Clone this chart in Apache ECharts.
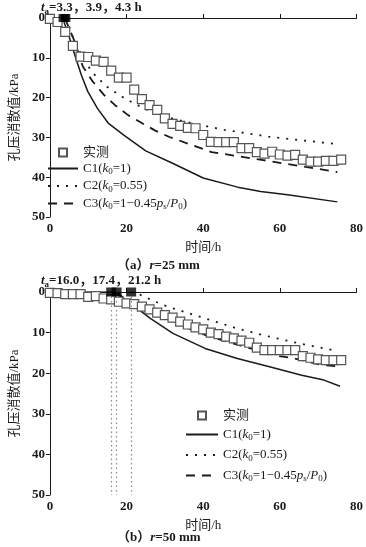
<!DOCTYPE html>
<html>
<head>
<meta charset="utf-8">
<script src="https://cdn.jsdelivr.net/npm/echarts@6/dist/echarts.min.js"></script>
<style>html,body{margin:0;padding:0;background:#fff;}#c{width:366px;height:547px;}</style>
</head>
<body>
<div id="c"></div>
<script>
// ---------- data: panel (a) r = 25 mm ----------
var obsA_x = [0,2,4,6,8,10,12,14,16,18,20,22,24,26,28,30,32,34,36,38,40,42,44,46,48,50,52,54,56,58,60,62,64,66,68,70,72,74,76];
var obsA_y = [0.2,1,3.5,7,9.7,9.8,10.7,11,13.2,15,15,18,20.4,21.9,23.1,25.2,26.6,27.1,27.6,27.7,29.4,31.1,31.2,31.2,31.2,32.7,32.7,33.7,34.1,33.6,34.3,34.6,34.4,35.6,36.1,36.1,35.9,35.9,35.6];
var c1A_x = [0,3.3,4.9,6.5,8.2,9.9,12.4,15.3,19.1,25,32,40,49,55,62,75];
var c1A_y = [0,0,4.3,9.3,14.3,18.5,22.7,26.5,29.3,33.4,36.5,40.2,42.5,43.6,44.4,46.2];
var c2A_x = [4.3,5.3,6.1,9.1,11.6,14.9,19.5,23.7,28.3,35.9,45.5,57,75];
var c2A_y = [0,3.0,5.1,11,14.2,17.3,20.2,22.3,24.4,26.2,28.1,29.8,31.7];
var c3A_x = [3.9,5,6.5,8.6,11.2,14.1,17,20.4,24.2,27.5,31.2,42.2,55.6,75];
var c3A_y = [0,2.5,6,12.2,16,19.3,21.9,24.4,26.5,28.3,29.9,33.7,35.7,38.7];
var taA = [3.3,3.9,4.3];
// ---------- data: panel (b) r = 50 mm ----------
var obsB_x = [0,2,4,6,8,10,12,14,16,18,20,22,24,26,28,30,32,34,36,38,40,42,44,46,48,50,52,54,56,58,60,62,64,66,68,70,72,74,76];
var obsB_y = [0.2,0.3,0.5,0.5,0.5,1.2,1.0,1.6,1.8,2.4,2.8,3.0,3.6,4.3,5.1,5.7,6.3,7.3,8.0,8.7,9.2,10.0,10.4,11.0,11.4,12.0,12.5,13.7,14.3,14.3,14.3,14.3,14.3,15.8,16.2,16.6,16.8,16.8,16.8];
var c1B_x = [0,16,16.5,18.7,22,26.2,32.1,40.5,48.9,57.3,65.7,71.5,75.7];
var c1B_y = [0,0,0.2,1.2,3.5,6.5,10.2,13.9,16.4,18.4,20.5,21.7,23.2];
var c2B_x = [21.2,24.6,26.2,30.4,40.5,48.9,57.3,65.7,74.9];
var c2B_y = [0,1.0,1.9,3.5,6.5,9.0,11.0,12.8,14.5];
var c3B_x = [17.4,20,25,30,35.5,40.5,47.2,53.1,59.8,63,70.7,75.7];
var c3B_y = [0,2.1,4.0,6.1,8.7,10.6,12.5,14.1,15.8,16.2,17.9,18.4];
var taB = [16.0,17.4,21.2];
// ---------- axis ticks ----------
var xTicks = [0,20,40,60,80];
var yTicks = [0,10,20,30,40,50];
var legendNames = ['实测','C1','C2','C3'];

function pairs(xs, ys){ return xs.map(function(x,i){ return [x, ys[i]]; }); }
function taPts(ts){ return ts.map(function(t){ return [t, 0]; }); }

var SERIF = "'Liberation Serif','Noto Sans CJK SC',serif";
var INK = '#1a1a1a';
var rich = {
  n: {fontFamily: SERIF, fontSize: 13, color: INK, lineHeight: 16},
  i: {fontFamily: SERIF, fontSize: 13, color: INK, fontStyle: 'italic', lineHeight: 16},
  s: {fontFamily: SERIF, fontSize: 9, color: INK, verticalAlign: 'bottom', lineHeight: 8}
};
function legendFmt(name){
  if (name === '实测') return '{n|实测}';
  if (name === 'C1') return '{n|C1(}{i|k}{s|0}{n|=1)}';
  if (name === 'C2') return '{n|C2(}{i|k}{s|0}{n|=0.55)}';
  return '{n|C3(}{i|k}{s|0}{n|=1−0.45}{i|p}{s|s}{n|/}{i|P}{s|0}{n|)}';
}
function legendData(){
  return legendNames.map(function(n){
    return n === '实测' ? {name: n} : {name: n, itemStyle: {opacity: 0}};
  });
}

function xAx(gi){
  return {
    type: 'value', gridIndex: gi, min: 0, max: 80, interval: 20,
    name: '时间/h', nameLocation: 'middle', nameGap: 24,
    nameTextStyle: {fontFamily: SERIF, fontSize: 13, color: INK},
    axisLine: {lineStyle: {color: INK, width: 1}},
    axisTick: {inside: true, length: 4, lineStyle: {color: INK}},
    axisLabel: {fontFamily: SERIF, fontSize: 13, color: INK, fontWeight: 'bold', margin: 5,
      formatter: function(v){ return xTicks.indexOf(v) >= 0 ? String(v) : ''; }},
    splitLine: {show: false}
  };
}
function yAx(gi){
  return {
    type: 'value', gridIndex: gi, min: 0, max: 50, interval: 10, inverse: true,
    name: '孔压消散值/kPa', nameLocation: 'middle', nameGap: 25, nameRotate: 90,
    nameTextStyle: {fontFamily: SERIF, fontSize: 13, color: INK},
    axisLine: {show: true, lineStyle: {color: INK, width: 1}},
    axisTick: {show: true, inside: false, length: 4, lineStyle: {color: INK}},
    axisLabel: {fontFamily: SERIF, fontSize: 13, color: INK, fontWeight: 'bold', margin: 5,
      formatter: function(v){ return yTicks.indexOf(v) >= 0 ? String(v) : ''; }},
    splitLine: {show: false}
  };
}

function panelSeries(gi, obs, c1, c2, c3, ta, taSize, vlines){
  var s = [
    {name: '实测', type: 'line', xAxisIndex: gi, yAxisIndex: gi, data: obs,
     symbol: 'rect', symbolSize: 9, showSymbol: true,
     lineStyle: {opacity: 0}, itemStyle: {color: '#fff', borderColor: '#555', borderWidth: 1.2}, z: 3},
    {name: 'C1', type: 'line', xAxisIndex: gi, yAxisIndex: gi, data: c1, symbol: 'none',
     lineStyle: {color: INK, width: 1.5, type: 'solid'}, itemStyle: {color: INK}},
    {name: 'C2', type: 'line', xAxisIndex: gi, yAxisIndex: gi, data: c2, symbol: 'none',
     lineStyle: {color: INK, width: 1.8, type: [2, 7]}, itemStyle: {color: INK}},
    {name: 'C3', type: 'line', xAxisIndex: gi, yAxisIndex: gi, data: c3, symbol: 'none',
     lineStyle: {color: INK, width: 1.8, type: [9, 7]}, itemStyle: {color: INK}},
    {name: 'ta' + gi, type: 'scatter', xAxisIndex: gi, yAxisIndex: gi, data: ta,
     symbol: 'rect', symbolSize: taSize, itemStyle: {color: '#000'}, z: 5}
  ];
  if (vlines) {
    s[4].markLine = {
      silent: true, symbol: 'none', label: {show: false},
      lineStyle: {color: '#888', type: [1.5, 3], width: 1.2},
      data: vlines.map(function(v){ return {xAxis: v}; })
    };
  }
  return s;
}

var chart = echarts.init(document.getElementById('c'), null, {renderer: 'canvas'});
chart.setOption({
  animation: false,
  backgroundColor: '#fff',
  grid: [
    {left: 39, top: 18, width: 318, height: 199},
    {left: 39, top: 292, width: 318, height: 203}
  ],
  xAxis: [xAx(0), xAx(1)],
  yAxis: [yAx(0), yAx(1)],
  title: [
    {left: 41, top: 0, padding: 0, text: '{i|t}{s|a}{n|=3.3，3.9，4.3 h}', textStyle: {rich: rich}},
    {left: 41, top: 273, padding: 0, text: '{i|t}{s|a}{n|=16.0，17.4，21.2 h}', textStyle: {rich: rich}},
    {left: 117, top: 258, padding: 0, text: '{n|（a）}{i|r}{n|=25 mm}', textStyle: {rich: rich}},
    {left: 117, top: 530, padding: 0, text: '{n|（b）}{i|r}{n|=50 mm}', textStyle: {rich: rich}}
  ],
  legend: [
    {orient: 'vertical', left: 42, top: 141, itemWidth: 30, itemHeight: 10, itemGap: 3,
     data: legendData(), formatter: legendFmt, textStyle: {rich: rich}, selectedMode: false},
    {orient: 'vertical', left: 180, top: 404, itemWidth: 32, itemHeight: 10, itemGap: 6,
     data: legendData(), formatter: legendFmt, textStyle: {rich: rich}, selectedMode: false}
  ],
  series: [].concat(
    panelSeries(0, pairs(obsA_x, obsA_y), pairs(c1A_x, c1A_y), pairs(c2A_x, c2A_y), pairs(c3A_x, c3A_y), taPts(taA), 8, null),
    panelSeries(1, pairs(obsB_x, obsB_y), pairs(c1B_x, c1B_y), pairs(c2B_x, c2B_y), pairs(c3B_x, c3B_y), taPts(taB), [10, 9], taB)
  )
});
</script>
</body>
</html>
